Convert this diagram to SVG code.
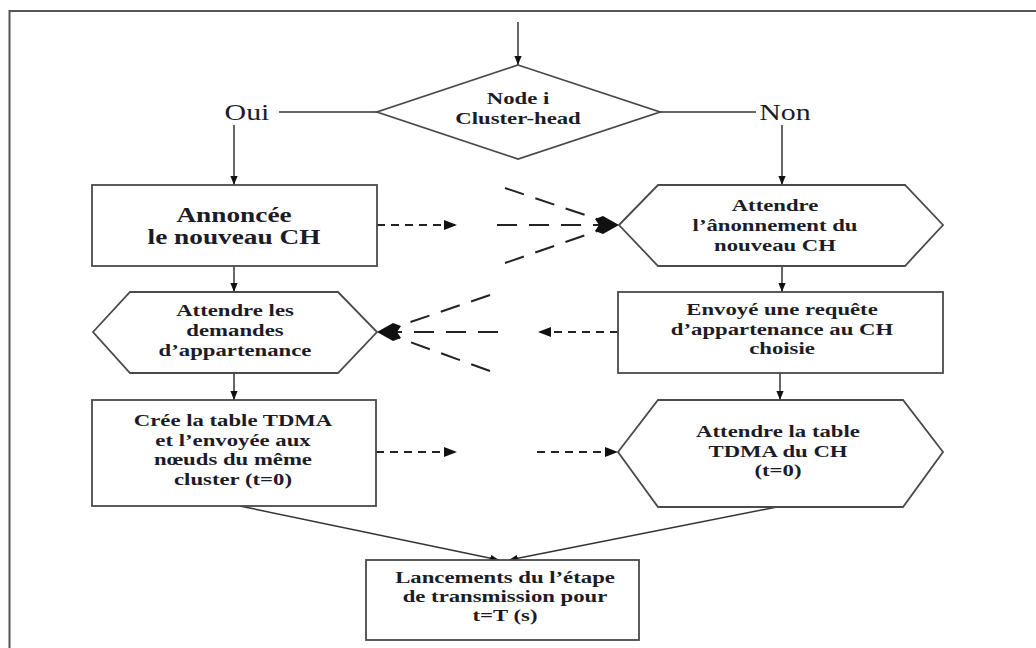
<svg xmlns="http://www.w3.org/2000/svg" width="1036" height="648" viewBox="0 0 1036 648">
<defs>
<style>
.shape{fill:#fff;stroke:#4a4a4a;stroke-width:1.8}
.t{font-family:"Liberation Serif","Times New Roman",serif;font-weight:bold;font-size:17.5px;fill:#1c1c28;text-anchor:middle}
.big{font-size:21px}
.lbl{font-size:23px;font-weight:normal}
.ln{fill:none;stroke:#333;stroke-width:1.5}
.dsh{fill:none;stroke:#222;stroke-width:2;stroke-dasharray:8 6}
.fan{fill:none;stroke:#222;stroke-width:2;stroke-dasharray:20 12}
.frame{fill:none;stroke:#555;stroke-width:2}
</style>
<marker id="ah" viewBox="0 0 10 8" refX="10" refY="4" markerWidth="9" markerHeight="8" markerUnits="userSpaceOnUse" orient="auto"><path d="M0,0 L10,4 L0,8 z" fill="#111"/></marker>
<marker id="ah2" viewBox="0 0 13 10" refX="13" refY="5" markerWidth="13" markerHeight="10" markerUnits="userSpaceOnUse" orient="auto"><path d="M0,0 L13,5 L0,10 z" fill="#111"/></marker>
</defs>
<rect width="1036" height="648" fill="#fff"/>
<path class="frame" d="M9.5,648 L9.5,11 L1036,11"/>

<g id="connectors">
<line class="ln" x1="518" y1="22" x2="518" y2="65" marker-end="url(#ah)"/>
<line class="ln" x1="377" y1="112" x2="279" y2="112"/>
<line class="ln" x1="660" y1="112" x2="756" y2="112"/>
<line class="ln" x1="234" y1="125" x2="234" y2="185" marker-end="url(#ah)"/>
<line class="ln" x1="782" y1="125" x2="782" y2="185" marker-end="url(#ah)"/>
<line class="ln" x1="234" y1="266" x2="234" y2="292" marker-end="url(#ah)"/>
<line class="ln" x1="234" y1="373" x2="234" y2="400" marker-end="url(#ah)"/>
<line class="ln" x1="782" y1="266" x2="782" y2="292" marker-end="url(#ah)"/>
<line class="ln" x1="780" y1="373" x2="780" y2="400" marker-end="url(#ah)"/>
<line class="ln" x1="240" y1="506" x2="499" y2="560" marker-end="url(#ah)"/>
<line class="ln" x1="777" y1="507" x2="509" y2="560" marker-end="url(#ah)"/>
<line class="dsh" x1="377" y1="225" x2="457" y2="225" marker-end="url(#ah2)"/>
<line class="dsh" x1="618" y1="332" x2="538" y2="332" marker-end="url(#ah2)"/>
<line class="dsh" x1="376" y1="452" x2="457" y2="452" marker-end="url(#ah2)"/>
<line class="dsh" x1="537" y1="452" x2="618" y2="452" marker-end="url(#ah2)"/>
<line class="fan" x1="505" y1="188" x2="600" y2="220"/>
<line class="fan" x1="497" y1="225" x2="600" y2="225"/>
<line class="fan" x1="505" y1="263" x2="600" y2="230"/>
<polygon points="595,219 603,216 619,225 603,234 595,231 599,225" fill="#111"/>
<line class="fan" x1="490" y1="295" x2="396" y2="327"/>
<line class="fan" x1="498" y1="332" x2="396" y2="332"/>
<line class="fan" x1="490" y1="371" x2="396" y2="337"/>
<polygon points="401,326 393,323 377,332 393,341 401,338 397,332" fill="#111"/>
<text class="t lbl" transform="translate(247,120) scale(1.3,1)">Oui</text>
<text class="t lbl" transform="translate(785,120) scale(1.3,1)">Non</text>
</g>

<g id="decision">
<path class="shape" d="M518,65 L660,112 L518,159 L377,112 Z"/>
<text class="t" transform="translate(518,104) scale(1.3,1)">Node i</text>
<text class="t" transform="translate(518,124) scale(1.3,1)">Cluster-head</text>
</g>

<g id="annonce">
<rect class="shape" x="92" y="185" width="285" height="81"/>
<text class="t big" transform="translate(234,222) scale(1.3,1)">Annoncée</text>
<text class="t big" transform="translate(234,244) scale(1.3,1)">le nouveau CH</text>
</g>

<g id="attendre-demandes">
<path class="shape" d="M93,332 L130,292 L338,292 L377,332 L338,373 L130,373 Z"/>
<text class="t" transform="translate(235,316) scale(1.3,1)">Attendre les</text>
<text class="t" transform="translate(235,336) scale(1.3,1)">demandes</text>
<text class="t" transform="translate(235,356) scale(1.3,1)">d’appartenance</text>
</g>

<g id="cree-table">
<rect class="shape" x="92" y="400" width="284" height="106"/>
<text class="t" transform="translate(233,426) scale(1.3,1)">Crée la table TDMA</text>
<text class="t" transform="translate(233,445.5) scale(1.3,1)">et l’envoyée aux</text>
<text class="t" transform="translate(233,465) scale(1.3,1)">nœuds du même</text>
<text class="t" transform="translate(233,485) scale(1.3,1)">cluster (t=0)</text>
</g>

<g id="attendre-annonce">
<path class="shape" d="M619,225 L658,185 L905,185 L943,225 L905,266 L658,266 Z"/>
<text class="t" transform="translate(775,211) scale(1.3,1)">Attendre</text>
<text class="t" transform="translate(775,231) scale(1.3,1)">l’ânonnement du</text>
<text class="t" transform="translate(775,250.5) scale(1.3,1)">nouveau CH</text>
</g>

<g id="envoye-requete">
<rect class="shape" x="618" y="292" width="325" height="81"/>
<text class="t" transform="translate(782,315) scale(1.3,1)">Envoyé une requête</text>
<text class="t" transform="translate(782,335) scale(1.3,1)">d’appartenance au CH</text>
<text class="t" transform="translate(782,354) scale(1.3,1)">choisie</text>
</g>

<g id="attendre-table">
<path class="shape" d="M618,452 L658,400 L903,400 L943,452 L903,507 L658,507 Z"/>
<text class="t" transform="translate(778,437) scale(1.3,1)">Attendre la table</text>
<text class="t" transform="translate(778,456.5) scale(1.3,1)">TDMA du CH</text>
<text class="t" transform="translate(778,476) scale(1.3,1)">(t=0)</text>
</g>

<g id="lancement">
<rect class="shape" x="366" y="560" width="273" height="80"/>
<text class="t" transform="translate(505,583) scale(1.3,1)">Lancements du l’étape</text>
<text class="t" transform="translate(505,602) scale(1.3,1)">de transmission pour</text>
<text class="t" transform="translate(505,621) scale(1.3,1)">t=T (s)</text>
</g>
</svg>
